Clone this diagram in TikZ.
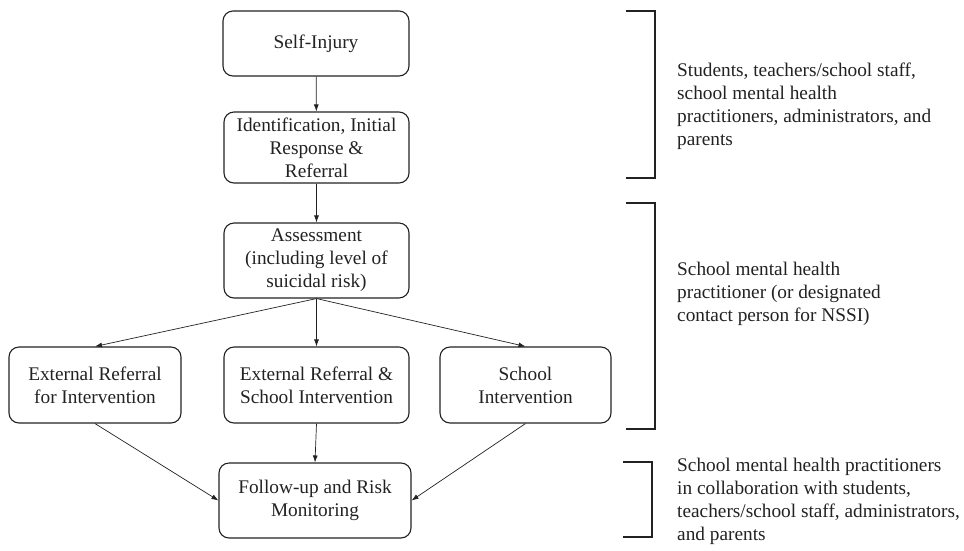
\documentclass[tikz,border=0pt]{standalone}
\usepackage{fontspec}
\setmainfont{Liberation Serif}
\usetikzlibrary{arrows.meta,positioning}
\definecolor{ink}{HTML}{222222}
\begin{document}
\begin{tikzpicture}[x=1pt,y=-1pt,
  txt/.style={font=\fontsize{19.3}{23}\selectfont, text=ink},
  box/.style={txt, draw=ink, line width=1.1pt, rounded corners=10pt, align=center, inner sep=0pt},
  conn/.style={draw=ink, line width=0.7pt, -{Latex[length=7pt,width=5pt]}},
  brk/.style={draw=ink, line width=1.1pt},
  side/.style={txt, anchor=west, align=left, inner sep=0pt}
]
\useasboundingbox (0,0) rectangle (964,550);

\node[box, minimum width=186pt, minimum height=65pt] (si) at (316,43.5) {Self-Injury};
\node[box, minimum width=185pt, minimum height=71pt] (id) at (316.5,147.5) {Identification, Initial\\Response \&\\Referral};
\node[box, minimum width=185pt, minimum height=75pt] (as) at (316.5,260.5) {Assessment\\(including level of\\suicidal risk)};
\node[box, minimum width=172pt, minimum height=76pt] (l) at (95,385) {External Referral\\for Intervention};
\node[box, minimum width=185pt, minimum height=76pt] (m) at (316.5,385) {External Referral \&\\School Intervention};
\node[box, minimum width=171pt, minimum height=76pt] (r) at (525.5,385) {School\\Intervention};
\node[box, minimum width=192pt, minimum height=75pt] (f) at (315,500.5) {Follow-up and Risk\\Monitoring};

\draw[conn] (si) -- (id);
\draw[conn] (id) -- (as);
\draw[conn] (as.south) -- (l.north);
\draw[conn] (as.south) -- (m.north);
\draw[conn] (as.south) -- (r.north);
\draw[conn] (l.south) -- (f.west);
\draw[conn] (m.south) -- (f.north);
\draw[conn] (r.south) -- (f.east);

\draw[brk] (626,11) -- (655,11) -- (655,178) -- (626,178);
\draw[brk] (626,203) -- (655,203) -- (655,429) -- (626,429);
\draw[brk] (623,462) -- (652,462) -- (652,537) -- (623,537);

\node[side] (t1) at (677,106.5) {Students, teachers/school staff,\\school mental health\\practitioners, administrators, and\\parents};
\node[side] (t2) at (677,294) {School mental health\\practitioner (or designated\\contact person for NSSI)};
\node[side] (t3) at (677,501) {School mental health practitioners\\in collaboration with students,\\teachers/school staff, administrators,\\and parents};
\end{tikzpicture}
\end{document}
